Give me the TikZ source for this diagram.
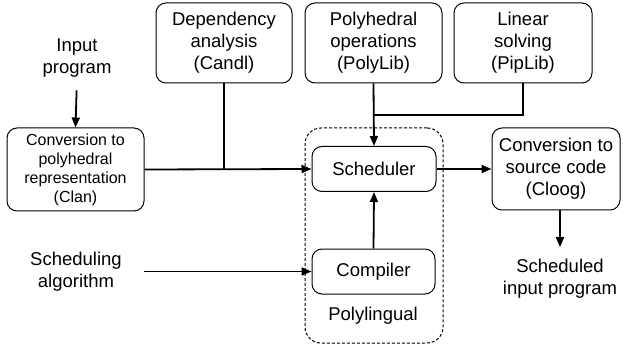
\documentclass[tikz,border=0pt]{standalone}
\usepackage{fontspec}
\setmainfont{Liberation Sans}
\usetikzlibrary{arrows.meta}

\begin{document}
\begin{tikzpicture}[x=1pt, y=-1pt,
  box/.style={draw, line width=1pt, rounded corners=10pt, align=center, inner sep=0pt},
  lbl/.style={align=center, inner sep=0pt, font=\fontsize{18.5}{22}\selectfont},
  link/.style={line width=1.8pt},
  flow/.style={line width=1.8pt, -{Triangle[length=10pt, width=8pt]}}]
\useasboundingbox (0,0) rectangle (623,347);

\node[box, rounded corners=16pt, dashed, dash pattern=on 3pt off 2pt, minimum width=138pt, minimum height=215pt] (poly) at (374, 235.5) {};
\node[lbl] (polyname) at (373, 316) {Polylingual};

\node[box, lbl, draw, minimum width=136pt, minimum height=80pt] (candl) at (224, 43) {Dependency\\analysis\\(Candl)};
\node[box, lbl, draw, minimum width=137pt, minimum height=80pt] (polylib) at (373.5, 43) {Polyhedral\\operations\\(PolyLib)};
\node[box, lbl, draw, minimum width=138pt, minimum height=80pt] (piplib) at (523, 43) {Linear\\solving\\(PipLib)};

\node[lbl] (input) at (77, 58) {Input\\program};
\node[box, minimum width=137pt, minimum height=83pt, font=\fontsize{16}{19}\selectfont] (clan) at (75.5, 169.5) {Conversion to\\polyhedral\\representation\\(Clan)};

\node[box, lbl, draw, minimum width=124pt, minimum height=45pt] (sched) at (374, 169) {Scheduler};
\node[box, lbl, draw, minimum width=123pt, minimum height=45pt] (comp) at (373.5, 271.5) {Compiler};
\node[box, lbl, draw, minimum width=128pt, minimum height=82pt] (cloog) at (556, 169) {Conversion to\\source code\\(Cloog)};

\node[lbl] (algo) at (76, 271.5) {Scheduling\\algorithm};
\node[lbl] (output) at (560, 279) {Scheduled\\input program};

\coordinate (join) at (polylib.south |- 0, 115);

\draw[flow, shorten <=13pt] (input.south) -- (clan.north);
\draw[flow] (clan.east) -- (sched.west);
\draw[link] (candl.south) -- (candl.south |- sched.west);
\draw[link] (piplib.south) |- (join);
\draw[flow] (polylib.south) -- (sched.north);
\draw[flow] (sched.east) -- (cloog.west);
\draw[flow] (comp.north) -- (sched.south);
\draw[flow, shorten <=22pt] (algo.east |- comp.west) -- (comp.west);
\draw[flow, shorten >=12pt] (cloog.south -| output.north) -- (output.north);
\end{tikzpicture}
\end{document}
